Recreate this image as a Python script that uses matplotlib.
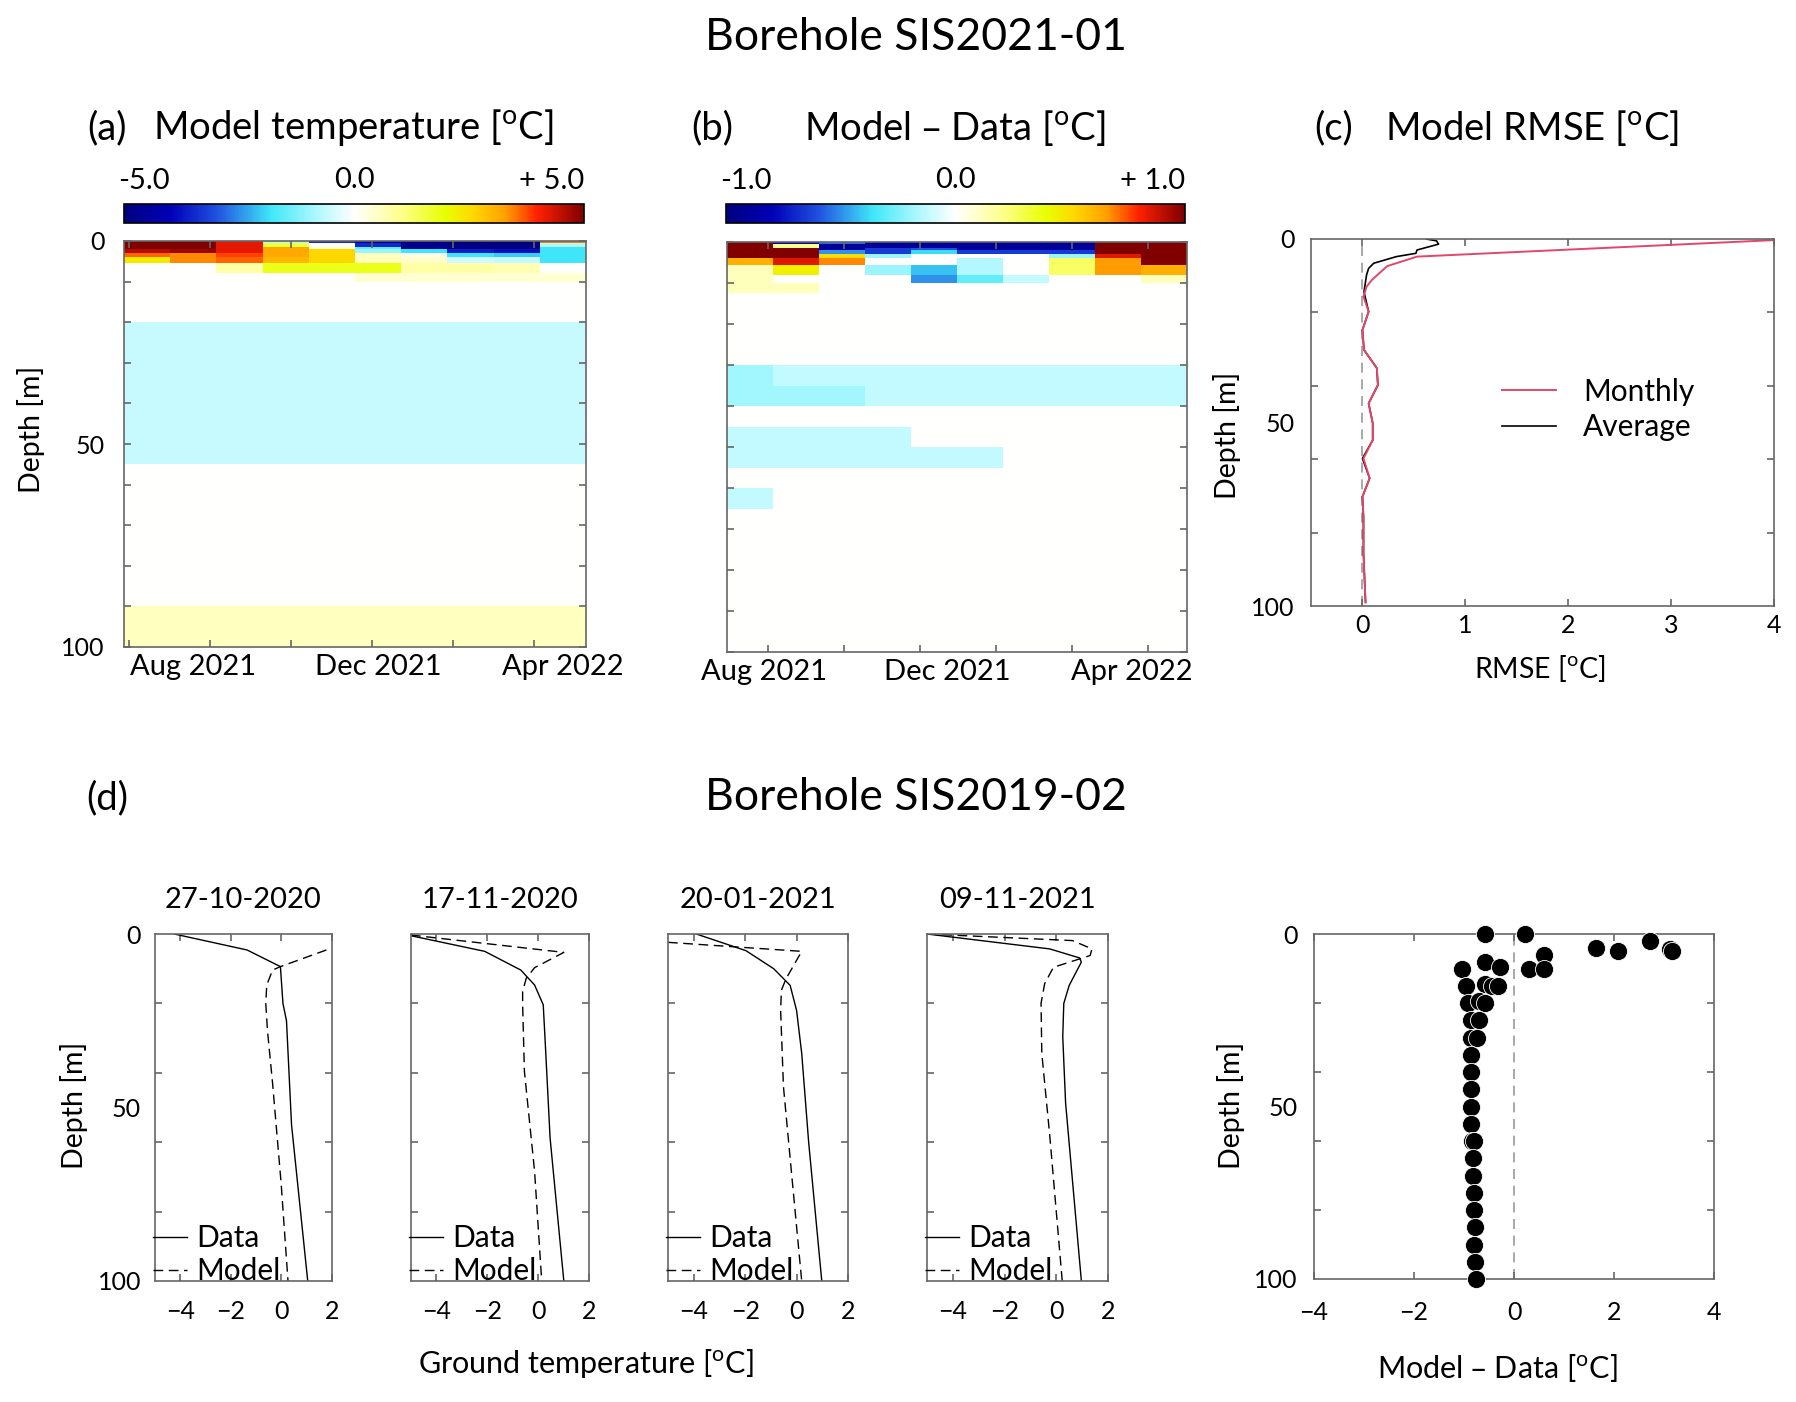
import numpy as np
import matplotlib.pyplot as plt
from matplotlib.cm import ScalarMappable
from matplotlib.colors import LinearSegmentedColormap, Normalize

# ── Style ─────────────────────────────────────────────────────────────────────
plt.rcParams.update({
    "font.family": ["Lato", "DejaVu Sans"],
    "font.size": 18,
    "axes.linewidth": 1.2,
})
AX_GREY = "#666666"
RED = "#e2476a"
DEG = r"[$^\mathregular{o}$C]"
TICK_FS = 18
MONTH_FS = 21
LABEL_FS = 20.5
XLABEL_FS = 22
LEGEND_FS = 21.5
PANEL_FS = 27.5
TITLE_FS = 32

W, H = 1796, 1402

CMAP = LinearSegmentedColormap.from_list("jet_white", [
    (0.00, "#000080"), (0.10, "#0000b8"), (0.20, "#2050e0"),
    (0.32, "#40e8f8"), (0.42, "#b0f8ff"), (0.50, "#ffffff"),
    (0.60, "#ffff90"), (0.70, "#e8ff00"), (0.76, "#ffd800"),
    (0.83, "#ffa000"), (0.90, "#ff2000"), (1.00, "#800000"),
])

# ── DATA ──────────────────────────────────────────────────────────────────────
MONTHS = ["Jul 2021", "Aug 2021", "Sep 2021", "Oct 2021", "Nov 2021",
          "Dec 2021", "Jan 2022", "Feb 2022", "Mar 2022", "Apr 2022"]
MONTH_LABELS = ["Aug 2021", "Dec 2021", "Apr 2022"]

LAYER_EDGES_M = [0, 0.5, 1.5, 2, 3, 4, 5.5, 8, 10, 12.5, 15, 20, 25, 30, 35,
                 40, 45, 50, 55, 60, 65, 70, 75, 80, 85, 90, 95, 100]

# (a) monthly model temperature [C], one row per layer, one column per month
MODEL_T = [
    [5.5, 5.5, 4.2, -0.8, -3.5, -4.5, -4.8, -5.5, -5.5, 3.5],
    [5.5, 5.5, 4.2, 1.6, 0.0, -3.5, -4.8, -5.5, -5.5, -0.8],
    [5.5, 5.5, 4.2, 3.2, 0.5, -1.5, -4.8, -5.5, -5.5, -1.8],
    [4.6, 4.8, 4.2, 3.2, 2.6, -1.0, -1.8, -3.6, -3.8, -1.8],
    [3.6, 3.4, 3.8, 3.2, 2.6, 0.6, 0.2, -1.8, -2.0, -1.8],
    [2.3, 3.4, 3.6, 3.0, 2.6, 0.6, 0.5, -0.5, -0.6, -1.8],
    [0.0, 0.0, 0.8, 1.8, 1.8, 1.8, 0.8, 0.8, 0.7, 0.0],
    [0.0, 0.0, 0.0, 0.0, 0.0, 0.4, 0.4, 0.4, 0.4, 0.4],
    [0.0] * 10, [0.0] * 10, [0.0] * 10,
    [-0.55] * 10, [-0.55] * 10, [-0.55] * 10, [-0.55] * 10,
    [-0.55] * 10, [-0.55] * 10, [-0.55] * 10,
    [0.0] * 10, [0.0] * 10, [0.0] * 10, [0.0] * 10,
    [0.0] * 10, [0.0] * 10, [0.0] * 10,
    [0.55] * 10, [0.55] * 10,
]

# (b) model minus data [C]
MODEL_MINUS_DATA = [
    [1.1, -0.8, -0.55, -0.9, -0.9, -0.9, -0.9, -0.9, 1.1, 1.1],
    [1.1, 0.2, -0.9, -0.9, -0.9, -0.9, -0.9, -0.9, 1.1, 1.1],
    [1.1, 1.1, -0.9, -0.65, -0.6, -0.9, -0.9, -0.9, 1.1, 1.1],
    [1.1, 1.1, -0.5, -0.65, -0.38, -0.65, -0.65, -0.65, 1.1, 1.1],
    [1.1, 1.1, 0.5, -0.2, 0.0, 0.0, 0.0, -0.2, 0.85, 1.1],
    [0.62, 0.85, 0.68, 0.0, 0.0, -0.15, 0.0, 0.26, 0.66, 1.1],
    [0.12, 0.44, 0.0, -0.2, -0.42, -0.15, 0.0, 0.26, 0.66, 0.62],
    [0.12, 0.0, 0.0, 0.0, -0.5, -0.3, -0.12, 0.0, 0.0, 0.12],
    [0.12, 0.12, 0.0, 0.0, 0.0, 0.0, 0.0, 0.0, 0.0, 0.0],
    [0.0] * 10, [0.0] * 10, [0.0] * 10, [0.0] * 10,
    [-0.18] + [-0.12] * 9,
    [-0.18] * 3 + [-0.12] * 7,
    [0.0] * 10,
    [-0.12] * 4 + [0.0] * 6,
    [-0.12] * 6 + [0.0] * 4,
    [0.0] * 10,
    [-0.12] + [0.0] * 9,
    [0.0] * 10, [0.0] * 10, [0.0] * 10, [0.0] * 10,
    [0.0] * 10, [0.0] * 10, [0.0] * 10,
]

# (c) RMSE profiles
RMSE_DEPTH_M = [0.3, 4.8, 7.4, 11.2, 13.0, 15.7, 19.8, 24.8, 30.2, 35.2, 39.8,
                44.8, 50.2, 54.8, 59.8, 65.2, 70.2, 75.7, 85.6, 99.0]
RMSE_MONTHLY = [4.0, 0.53, 0.24, 0.09, 0.04, 0.01, 0.06, 0.0, 0.015, 0.14,
                0.15, 0.06, 0.10, 0.10, 0.01, 0.07, 0.0, 0.01, 0.01, 0.03]
AVG_DEPTH_M = [0.0, 0.5, 1.4, 3.0, 3.9, 4.8, 6.6, 8.0, 9.8, 14.4, 19.8, 24.8,
               30.2, 35.2, 39.8, 44.8, 50.2, 54.8, 59.8, 65.2, 70.2, 75.7,
               85.6, 99.0]
RMSE_AVERAGE = [0.62, 0.72, 0.74, 0.53, 0.52, 0.33, 0.11, 0.06, 0.04, 0.015,
                0.06, 0.0, 0.015, 0.14, 0.15, 0.06, 0.10, 0.10, 0.0, 0.07,
                0.0, 0.01, 0.01, 0.03]

# (d) SIS2019-02 profiles: (depth, temperature) for data and model
PROFILE_DATES = ["27-10-2020", "17-11-2020", "20-01-2021", "09-11-2021"]
DATA_DEPTH = [
    [0, 4.6, 9.4, 20, 25, 55, 100],
    [0.5, 5, 10.4, 14.7, 20.4, 30, 58.8, 100],
    [0, 4.8, 10, 14.8, 22, 34.4, 60, 100],
    [0, 4.3, 6.9, 8.1, 14.8, 20, 29.6, 48.7, 100],
]
DATA_TEMP = [
    [-4.24, -1.36, -0.04, 0.06, 0.2, 0.4, 1.04],
    [-5.0, -2.1, -0.68, -0.14, 0.2, 0.27, 0.47, 1.01],
    [-3.9, -1.97, -0.89, -0.25, 0.0, 0.2, 0.47, 0.98],
    [-5.0, -0.25, 0.9, 0.97, 0.5, 0.29, 0.25, 0.36, 0.97],
]
MODEL_DEPTH = [
    [4.6, 9.4, 10.4, 14.7, 20, 28, 43, 72, 100],
    [0.3, 5.3, 9.7, 12.8, 16.6, 20.4, 39.6, 68.4, 100],
    [2.4, 5.0, 12.9, 16.2, 22, 44, 67.8, 100],
    [0, 1.9, 4.3, 6.2, 9.6, 14.3, 20, 34.4, 58.3, 100],
]
MODEL_TEMP = [
    [1.78, -0.04, -0.35, -0.58, -0.62, -0.55, -0.35, -0.01, 0.26],
    [-5.0, 1.01, -0.14, -0.47, -0.61, -0.61, -0.54, -0.14, 0.14],
    [-5.0, 0.2, -0.41, -0.59, -0.62, -0.51, -0.21, 0.2],
    [-5.0, 0.63, 1.38, 1.31, -0.11, -0.45, -0.59, -0.56, -0.25, 0.23],
]

# (d) right: model - data misfit at each sensor
MISFIT_DEPTH_M = [0, 0, 1.9, 4.0, 5.0, 4.3, 5.0, 6.0, 8.1, 9.5, 10, 10, 10,
                  15.1, 14.4, 15.1, 15.1, 19.9, 19.4, 19.9, 24.9, 24.9, 30, 30,
                  35, 40, 45, 50, 55, 60, 60, 65, 70, 75, 80, 85, 90, 95, 100]
MISFIT_C = [-0.58, 0.22, 2.71, 1.64, 2.07, 3.12, 3.15, 0.59, -0.58, -0.29,
            -1.05, 0.30, 0.59, -0.97, -0.58, -0.44, -0.32, -0.92, -0.71, -0.58,
            -0.86, -0.70, -0.86, -0.75, -0.87, -0.87, -0.87, -0.87, -0.87,
            -0.85, -0.80, -0.82, -0.82, -0.81, -0.80, -0.78, -0.80, -0.78,
            -0.77]


# ── helpers ───────────────────────────────────────────────────────────────────
def px_axes(fig, x0, y0, x1, y1):
    return fig.add_axes([x0 / W, 1 - y1 / H, (x1 - x0) / W, (y1 - y0) / H])


def px_text(fig, x, y, s, **kw):
    kw.setdefault("ha", "center")
    kw.setdefault("va", "center")
    fig.text(x / W, 1 - y / H, s, **kw)


def style(ax):
    for sp in ax.spines.values():
        sp.set_color(AX_GREY)
        sp.set_linewidth(1.2)
    ax.tick_params(which="both", direction="in", top=True, right=True,
                   color=AX_GREY, width=1.2, length=5, labelsize=TICK_FS)


def depth_labels(ax, marks, show=True, pad=12):
    ax.set_ylim(100, 0)
    ax.set_yticks(marks, minor=True)
    ax.set_yticks([0, 50, 100])
    ax.set_yticklabels(["0", "50", "100"] if show else [])
    ax.tick_params(axis="y", which="major", length=0, pad=pad)
    ax.tick_params(axis="y", which="minor", labelleft=False)


def heatmap(fig, box, cbox, values, vmax, tick_marks, label_shift, ylabels):
    ax = px_axes(fig, *box)
    x_edges = np.arange(len(MONTHS) + 1)
    ax.pcolormesh(x_edges, LAYER_EDGES_M, np.array(values), cmap=CMAP,
                  vmin=-vmax, vmax=vmax, shading="flat")
    style(ax)
    ax.set_xlim(0, len(MONTHS))
    ax.set_ylim(100, 0)
    ax.set_yticks(range(0, 101, 10))
    ax.set_yticklabels(["0", "", "", "", "", "50", "", "", "", "", "100"]
                       if ylabels else [])
    ax.tick_params(axis="y", pad=14)
    ax.set_xticks(tick_marks, minor=True)
    ax.set_xticks([MONTHS.index(m) + 0.5 + label_shift for m in MONTH_LABELS])
    ax.set_xticklabels(MONTH_LABELS, fontsize=MONTH_FS)
    ax.tick_params(axis="x", which="major", length=0, pad=5)

    cax = px_axes(fig, *cbox)
    cb = fig.colorbar(ScalarMappable(Normalize(-vmax, vmax), CMAP), cax=cax,
                      orientation="horizontal")
    cb.set_ticks([])
    cb.outline.set_linewidth(1.2)
    x0, y0, x1, _ = cbox
    px_text(fig, x0 - 6, y0 - 23, f"-{vmax:.1f}", ha="left", fontsize=MONTH_FS)
    px_text(fig, (x0 + x1) / 2, y0 - 24, "0.0", fontsize=MONTH_FS)
    px_text(fig, x1, y0 - 23, f"+ {vmax:.1f}", ha="right", fontsize=MONTH_FS)
    return ax


def main() -> None:
    fig = plt.figure(figsize=(W / 100, H / 100), dpi=100)

    # titles
    px_text(fig, 916, 37, "Borehole SIS2021-01", fontsize=TITLE_FS)
    px_text(fig, 107, 128, "(a)", fontsize=PANEL_FS)
    px_text(fig, 353, 128, "Model temperature " + DEG, fontsize=PANEL_FS)
    px_text(fig, 712, 128, "(b)", fontsize=PANEL_FS)
    px_text(fig, 955, 128, "Model \u2013 Data " + DEG, fontsize=PANEL_FS)
    px_text(fig, 1334, 128, "(c)", fontsize=PANEL_FS)
    px_text(fig, 1532, 128, "Model RMSE " + DEG, fontsize=PANEL_FS)
    px_text(fig, 107, 798, "(d)", fontsize=PANEL_FS)
    px_text(fig, 916, 798, "Borehole SIS2019-02", fontsize=TITLE_FS)

    # (a) and (b)
    heatmap(fig, (124, 241, 586, 647), (124, 204, 584, 223), MODEL_T, 5.0,
            np.arange(0.1, 10, 1.755), 0.0, True)
    heatmap(fig, (727, 242, 1187, 652), (726, 204, 1185, 223),
            MODEL_MINUS_DATA, 1.0, np.arange(0.89, 10, 1.652), -0.7, False)
    px_text(fig, 31, 429, "Depth [m]", rotation=90, fontsize=LABEL_FS)

    # (c) RMSE
    ax = px_axes(fig, 1311, 239, 1774, 606)
    ax.axvline(0, color="#999999", lw=1.2, dashes=(6, 4), zorder=1)
    ax.plot(RMSE_AVERAGE, AVG_DEPTH_M, color="black", lw=1.2, label="Average")
    ax.plot(RMSE_MONTHLY, RMSE_DEPTH_M, color=RED, lw=1.4, label="Monthly")
    style(ax)
    ax.set_xlim(-0.5, 4)
    ax.set_xticks([0, 1, 2, 3, 4])
    ax.tick_params(axis="x", pad=6)
    depth_labels(ax, [20, 40, 60, 80], pad=12)
    h, lab = ax.get_legend_handles_labels()
    ax.legend(h[::-1], lab[::-1], loc="center left",
              bbox_to_anchor=(0.355, 0.535), frameon=False,
              fontsize=LEGEND_FS, handlelength=1.8, handletextpad=0.9,
              labelspacing=0.25)
    px_text(fig, 1227, 435, "Depth [m]", rotation=90, fontsize=LABEL_FS)
    px_text(fig, 1540, 668, "RMSE " + DEG, fontsize=LABEL_FS)

    # (d) profiles
    boxes = [(155, 934, 332, 1281), (411, 934, 589, 1281),
             (668, 934, 848, 1281), (927, 934, 1108, 1281)]
    for i, box in enumerate(boxes):
        ax = px_axes(fig, *box)
        ax.plot(DATA_TEMP[i], DATA_DEPTH[i], color="black", lw=1.0,
                label="Data")
        ax.plot(MODEL_TEMP[i], MODEL_DEPTH[i], color="black", lw=1.0,
                dashes=(7, 4), label="Model")
        style(ax)
        ax.set_xlim(-5, 2)
        ax.set_xticks([-4, -2, 0, 2])
        ax.tick_params(axis="x", pad=14)
        depth_labels(ax, [20, 40, 60, 80], show=(i == 0), pad=10)
        ax.legend(loc="lower left", bbox_to_anchor=(-0.03, -0.02),
                  frameon=False, fontsize=LEGEND_FS, borderaxespad=0,
                  borderpad=0.1, handlelength=1.15, handletextpad=0.3,
                  labelspacing=0.15)
        px_text(fig, (box[0] + box[2]) / 2, 900, PROFILE_DATES[i],
                fontsize=21)
    px_text(fig, 74, 1105, "Depth [m]", rotation=90, fontsize=LABEL_FS)
    px_text(fig, 586, 1363, "Ground temperature " + DEG, fontsize=XLABEL_FS)

    # (d) misfit scatter
    ax = px_axes(fig, 1314, 934, 1714, 1279)
    ax.axvline(0, color="#999999", lw=1.2, dashes=(6, 4), zorder=1)
    ax.scatter(MISFIT_C, MISFIT_DEPTH_M, s=170, color="black",
               edgecolors="white", linewidths=0.6, zorder=3, clip_on=False)
    style(ax)
    ax.set_xlim(-4, 4)
    ax.set_xticks([-4, -2, 0, 2, 4])
    ax.tick_params(axis="x", pad=16)
    depth_labels(ax, [20, 40, 60, 80], pad=12)
    px_text(fig, 1231, 1105, "Depth [m]", rotation=90, fontsize=LABEL_FS)
    px_text(fig, 1497, 1368, "Model \u2013 Data " + DEG, fontsize=XLABEL_FS)

    fig.savefig("out.png", dpi=100, facecolor="white")


if __name__ == "__main__":
    main()
